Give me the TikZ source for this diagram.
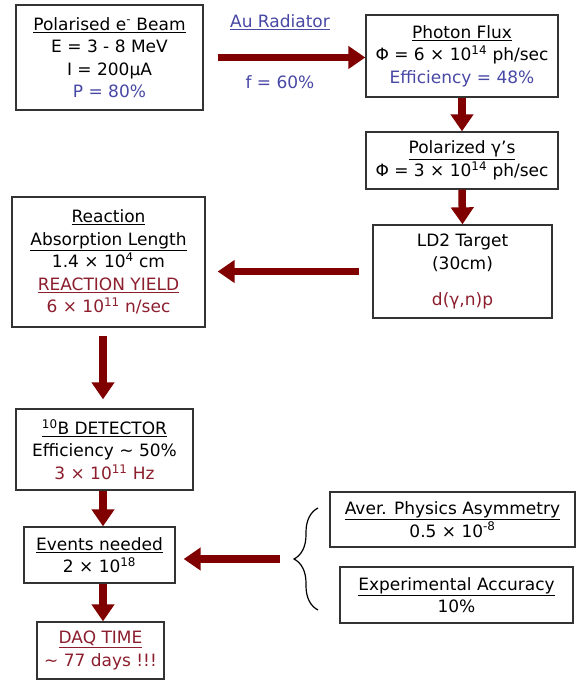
\documentclass[tikz,border=0pt]{standalone}
\usepackage{fontspec}
\setmainfont{DejaVu Sans}
\usetikzlibrary{arrows.meta, decorations.pathreplacing}

\definecolor{arrowred}{RGB}{128,0,0}
\definecolor{bluetxt}{RGB}{72,72,165}
\definecolor{redtxt}{RGB}{140,30,45}
\newcommand{\hd}[1]{\underline{#1}}
\newcommand{\ee}[1]{\textsuperscript{#1}}

\begin{document}
\begin{tikzpicture}[
        x=1pt, y=-1pt,
        >={Triangle[length=17pt,width=22pt]},
        every node/.style={font=\fontsize{17}{22.5}\selectfont},
        box/.style={draw=black!80, line width=1.3pt, rectangle, align=center, inner sep=0pt, fill=white},
        flow/.style={->, draw=arrowred, line width=7.5pt},
        brace/.style={decorate, decoration={brace, amplitude=24pt}, line width=1.2pt}
    ]
        \useasboundingbox (0,0) rectangle (586,684);

        % Nodes
        \node [box, minimum width=187pt, minimum height=105pt] (beam) at (109.5,57.5)
            {\hd{Polarised e\ee{-} Beam}\\ E = 3 - 8 MeV\\ I = 200μA\\ \textcolor{bluetxt}{P = 80\%}};
        \node [box, minimum width=192pt, minimum height=82pt] (flux) at (462,56)
            {\hd{Photon Flux}\\ Φ = 6 × 10\ee{14} ph/sec\\ \textcolor{bluetxt}{Efficiency = 48\%}};
        \node [box, minimum width=192pt, minimum height=57pt] (polar) at (462,160.5)
            {\hd{Polarized γ's}\\ Φ = 3 × 10\ee{14} ph/sec};
        \node [box, minimum width=179pt, minimum height=93pt] (target) at (462.5,271.5)
            {LD2 Target\\ (30cm)\\[14pt] \textcolor{redtxt}{d(γ,n)p}};
        \node [box, minimum width=193pt, minimum height=130pt] (reaction) at (108.5,262)
            {\hd{Reaction}\\ \hd{Absorption Length}\\ 1.4 × 10\ee{4} cm\\
             \textcolor{redtxt}{\hd{REACTION YIELD}}\\ \textcolor{redtxt}{6 × 10\ee{11} n/sec}};
        \node [box, minimum width=177pt, minimum height=81pt] (detector) at (104.5,449.5)
            {\hd{\ee{10}B DETECTOR}\\ Efficiency \textasciitilde{} 50\%\\ \textcolor{redtxt}{3 × 10\ee{11} Hz}};
        \node [box, minimum width=151pt, minimum height=56pt] (events) at (99.5,555)
            {\hd{Events needed}\\ 2 × 10\ee{18}};
        \node [box, minimum width=127pt, minimum height=57pt] (daq) at (100.5,650.5)
            {\textcolor{redtxt}{\hd{DAQ TIME}}\\ \textcolor{redtxt}{\textasciitilde{} 77 days !!!}};
        \node [box, minimum width=245pt, minimum height=55pt] (aver) at (452.5,519.5)
            {\hd{Aver. Physics Asymmetry}\\ 0.5 × 10\ee{-8}};
        \node [box, minimum width=233pt, minimum height=56pt] (exper) at (456.5,595)
            {\hd{Experimental Accuracy}\\ 10\%};

        \node [text=bluetxt] (radiator) at (280,22) {\hd{Au Radiator}};
        \node [text=bluetxt] (frac) at (280,82) {f = 60\%};

        \coordinate (bup) at (318,508);
        \coordinate (bdown) at (318,610);
        \coordinate (btip) at (280,559);

        % Connections
        \draw [flow, shorten <=14pt] (beam.east) -- (beam.east -| flux.west);
        \draw [flow] (flux.south) -- (polar.north);
        \draw [flow] (polar.south) -- (target.north);
        \draw [flow, shorten <=13pt, shorten >=12pt] (target.west) -- (target.west -| reaction.east);
        \draw [flow, shorten <=8pt, shorten >=9pt] (reaction.south -| 103,0) -- (detector.north -| 103,0);
        \draw [flow] (detector.south -| 103,0) -- (events.north -| 103,0);
        \draw [flow] (events.south -| 103,0) -- (daq.north -| 103,0);

        % Brace
        \draw [brace] (bdown) -- (bup);
        \draw [flow, shorten >=8pt] (btip) -- (btip -| events.east);
    \end{tikzpicture}
\end{document}
